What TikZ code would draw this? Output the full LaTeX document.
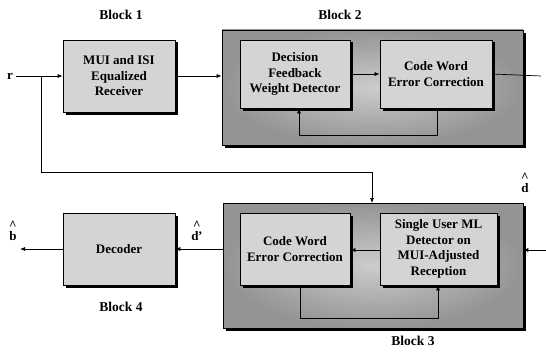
\documentclass[tikz,border=0pt]{standalone}
\usepackage{fontspec}
\setmainfont{Liberation Serif}
\usepackage{tikz}
\usetikzlibrary{arrows.meta,positioning,calc,shadows}
\definecolor{boxgray}{HTML}{D4D4D4}

\begin{document}
\begin{tikzpicture}[x=1pt, y=-1pt,
  every node/.style={font=\fontsize{13}{15.5}\selectfont\bfseries, align=center},
  boxnode/.style={draw, line width=0.7pt, fill=boxgray, inner sep=2pt,
    drop shadow={shadow xshift=2.5pt, shadow yshift=-2.5pt, fill=black, opacity=1}},
  framenode/.style={draw, line width=0.7pt, inner color=black!20, outer color=black!42,
    drop shadow={shadow xshift=3pt, shadow yshift=-3pt, fill=black, opacity=1}},
  lbl/.style={font=\fontsize{13.5}{15}\selectfont\bfseries},
  hatlbl/.style={font=\fontsize{13}{13}\selectfont\bfseries, inner sep=0pt},
  sig/.style={line width=0.7pt},
  arr/.style={sig, -{Latex[length=5pt,width=4pt]}}
]
\useasboundingbox (0,0) rectangle (546,353);

% outer frames first
\node[framenode, minimum width=301pt, minimum height=115pt] (blk2) at (372.5,87.5) {};
\node[framenode, minimum width=300pt, minimum height=125pt] (blk3) at (373,265.5) {};

\node[boxnode, minimum width=112pt, minimum height=72pt] (eqr) at (119,76) {MUI and ISI\\Equalized\\Receiver};
\node[boxnode, minimum width=110pt, minimum height=68pt] (dfwd) at (295,74) {Decision\\Feedback\\Weight Detector};
\node[boxnode, minimum width=112pt, minimum height=68pt] (cwa) at (436,74) {Code Word\\Error Correction};
\node[boxnode, minimum width=110pt, minimum height=72pt] (cwb) at (295,249) {Code Word\\Error Correction};
\node[boxnode, minimum width=117pt, minimum height=72pt] (suml) at (438.5,249) {Single User ML\\Detector on\\MUI-Adjusted\\Reception};
\node[boxnode, minimum width=112pt, minimum height=72pt] (dec) at (119,249) {Decoder};

\node[lbl] (t1) at (121,15) {Block 1};
\node[lbl] (t2) at (340,15) {Block 2};
\node[lbl] (t3) at (413,341) {Block 3};
\node[lbl] (t4) at (121,307) {Block 4};

\node[hatlbl] (r) at (10,76) {r};
\node[hatlbl] (dh) at (525,183) {\^{}\\[-2pt]d};
\node[hatlbl] (dp) at (197,231) {\^{}\\[-2pt]d\kern-0.5pt\textquoteright};
\node[hatlbl] (bh) at (13,231) {\^{}\\[-2pt]b};

\coordinate (br) at (41,76);
\coordinate (outr) at (541,76);
\coordinate (inr) at (546,250);
\coordinate (outb) at (20,249);

\draw[sig] (r.east) ++(3,0) -- (br);
\draw[arr] (br) -- (eqr.west);
\draw[arr] (br) -- (41,172) -- (372,172) -- (372,203);
\draw[arr] (eqr.east) -- (blk2.west |- eqr.east);
\draw[arr] (dfwd) -- (cwa);
\draw[sig] (cwa.east) -- (outr);
\draw[arr] (cwa.south -| 437,0) -- (437,135) -- (299,135) -- (dfwd.south -| 299,0);

\draw[arr] (inr) -- (blk3.east |- inr);
\draw[arr] (suml.west |- 0,250) -- (cwb.east |- 0,250);
\draw[arr] (cwb.south -| 300,0) -- (300,318) -- (438,318) -- (suml.south -| 438,0);
\draw[arr] (blk3.west |- dec.east) -- (dec.east);
\draw[arr] (dec.west) -- (outb);
\end{tikzpicture}
\end{document}
